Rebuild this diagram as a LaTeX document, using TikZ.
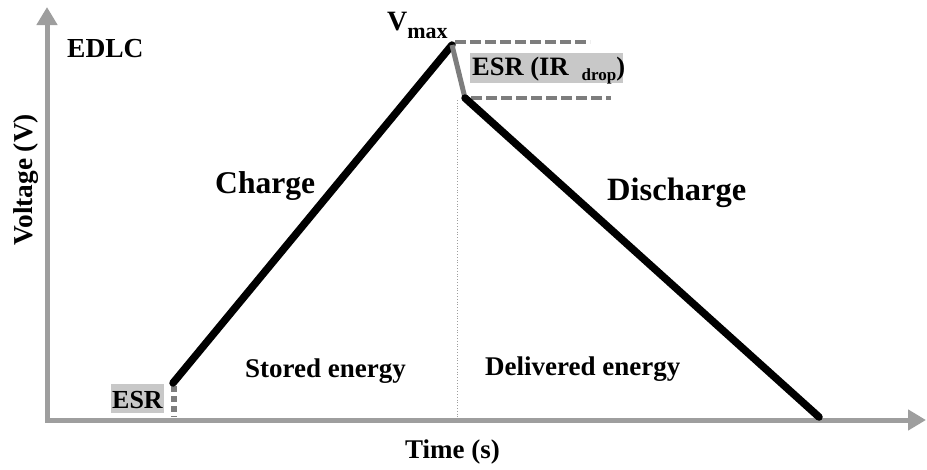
\documentclass[tikz,border=0pt]{standalone}
\usepackage{fontspec}
\setmainfont{Liberation Serif}
\usetikzlibrary{arrows.meta}
\definecolor{axisgray}{RGB}{158,158,158}
\definecolor{dashgray}{RGB}{125,125,125}
\definecolor{boxgray}{RGB}{200,200,200}
\newcommand{\fs}[1]{\fontsize{#1}{#1}\selectfont\bfseries}
\begin{document}
\begin{tikzpicture}[x=1pt,y=-1pt,
  axis/.style={draw=axisgray,line width=5pt,-{Triangle[length=18pt,width=20pt]}},
  curve/.style={line width=7.5pt,line cap=round},
  guide/.style={draw=dashgray,line width=3.2pt,dash pattern=on 11pt off 4pt},
  lbl/.style={inner sep=0pt,anchor=base west},
  shade/.style={fill=boxgray,inner sep=0pt,anchor=north west}]
\useasboundingbox (0,0) rectangle (927,469);

% axes
\coordinate (origin) at (47,420);
\coordinate (ytip) at (47,7);
\coordinate (xtip) at (926,420);
\draw[axis] (47,422) -- (ytip);
\draw[axis] (45,420) -- (xtip);

% key points of the voltage profile
\coordinate (start) at (173,383);
\coordinate (vmax) at (452,45);
\coordinate (drop) at (465,98);
\coordinate (end) at (819,417);

% grey label backgrounds
\node[shade,minimum width=53pt,minimum height=29pt] (esrbox) at (111,384) {};
\node[shade,minimum width=153pt,minimum height=30pt] (irbox) at (470,53) {};

% dotted separator between the two phases
\coordinate (sepbot) at (457,418);
\coordinate (septop) at (457,100);
\draw[axisgray,line width=0.8pt,dotted] (septop) -- (sepbot);

% reference levels around the IR drop
\coordinate (hi1) at (455,42);
\coordinate (hi2) at (590,42);
\coordinate (lo1) at (471,98);
\coordinate (lo2) at (611,98);
\draw[guide] (hi1) -- (hi2);
\draw[guide] (lo1) -- (lo2);

% initial ESR step
\coordinate (esrtop) at (174,386);
\coordinate (esrbot) at (174,417);
\draw[dashgray,line width=6pt,dash pattern=on 6pt off 4pt] (esrtop) -- (esrbot);

% charge / discharge lines
\draw[curve] (start) -- (vmax);
\draw[dashgray,line width=5pt] (vmax) -- (drop);
\draw[curve] (drop) -- (end);

% labels
\node[lbl] (edlc) at (67,57) {\fs{27.5}EDLC};
\node[inner sep=0pt,rotate=90] (ylab) at (26,180) {\fs{27.3}Voltage (V)};
\node[lbl] (xlab) at (405,458) {\fs{27}Time (s)};
\node[lbl] (charge) at (215,193) {\fs{31.6}Charge};
\node[lbl] (discharge) at (607,200) {\fs{32.5}Discharge};
\node[lbl] (stored) at (245,377) {\fs{27}Stored energy};
\node[lbl] (delivered) at (485,375) {\fs{27}Delivered energy};
\node[lbl] (vmaxlbl) at (387,30) {\fs{28}V\raisebox{-8pt}{\fs{22}max}};
\node[lbl] (irlbl) at (472,75) {\fs{26.5}ESR (IR\hspace{13pt}\raisebox{-5pt}{\fs{17}drop})};
\node[lbl] (esrlbl) at (112,408) {\fs{26}ESR};
\end{tikzpicture}
\end{document}
